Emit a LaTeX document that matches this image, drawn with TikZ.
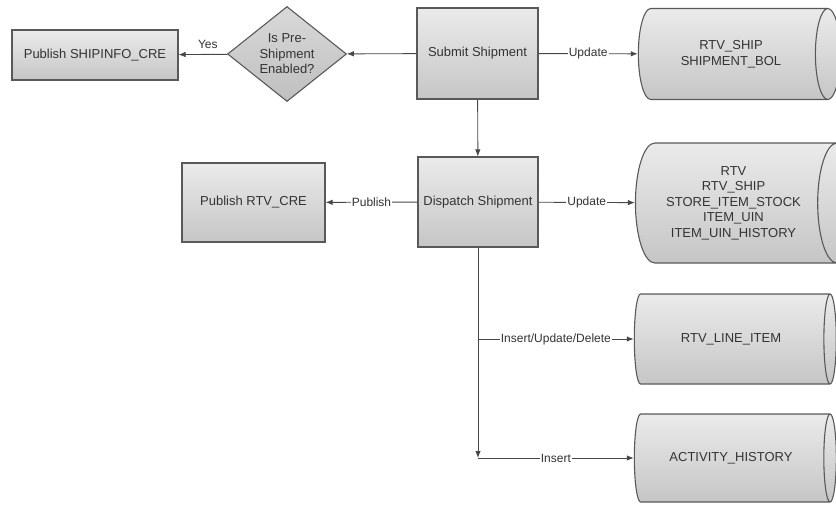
\documentclass[tikz,border=0pt]{standalone}
\usepackage{fontspec}
\setmainfont{Liberation Sans}
\usepackage{tikz}
\usetikzlibrary{arrows.meta}
\usetikzlibrary{shapes.geometric}
\usetikzlibrary{positioning}

\begin{document}
\begin{tikzpicture}[x=1pt,y=1pt,->,>={Latex[length=7pt,width=5.5pt]},line width=0.9pt,draw=black!72,text=black!80,font=\fontsize{13}{15.5}\selectfont]
	\tikzstyle{proc}=[draw=black!65, line width=1.1pt, rectangle, top color=gray!16, bottom color=gray!45, align=center, inner sep=2pt]
	\tikzstyle{dec}=[draw=black!65, line width=1.1pt, diamond, top color=gray!30, bottom color=gray!50, align=center, inner sep=0pt, minimum width=119, minimum height=91]
	\tikzstyle{tbl}=[draw=black!65, line width=1.1pt, cylinder, top color=gray!16, bottom color=gray!45, align=center, inner sep=2pt, minimum height=202]
	\tikzstyle{lab}=[fill=white, inner sep=1pt, font=\fontsize{12}{14}\selectfont]
	\useasboundingbox (0,0) rectangle (836,-504);

	\node[proc, minimum width=166, minimum height=50] (p1) at (95,-55) {Publish SHIPINFO\_CRE};
	\node[dec] (q1) at (287,-54) {Is Pre-\\Shipment\\Enabled?};
	\node[proc, minimum width=121, minimum height=91] (s1) at (477.5,-53.5) {Submit Shipment};
	\node[proc, minimum width=120, minimum height=90] (d1) at (478,-202) {Dispatch Shipment};
	\node[proc, minimum width=143, minimum height=79] (p2) at (253.5,-202.5) {Publish RTV\_CRE};

	\node[tbl, minimum width=91, aspect=0.8] (t1) at (731,-54) {RTV\_SHIP\\SHIPMENT\_BOL};
	\node[tbl, minimum width=120, minimum height=221, aspect=0.5] (t2) at (733.5,-203) {RTV\\RTV\_SHIP\\STORE\_ITEM\_STOCK\\ITEM\_UIN\\ITEM\_UIN\_HISTORY};
	\node[tbl, minimum width=90, aspect=0.8] (t3) at (731,-339) {RTV\_LINE\_ITEM};
	\node[tbl, minimum width=88, aspect=0.8] (t4) at (731,-458) {ACTIVITY\_HISTORY};

	\coordinate (c1) at (d1.south |- t3);
	\coordinate (c2) at (d1.south |- t4);

	\draw (s1) -- (q1);
	\draw (q1) -- node[above, pos=0.4, font=\fontsize{12}{14}\selectfont, yshift=2pt] {Yes} (p1);
	\draw (s1) -- node[lab] {Update} (t1);
	\draw (s1) -- (d1);
	\draw (d1) -- node[lab] {Publish} (p2);
	\draw (d1) -- node[lab] {Update} (t2);
	\draw[-] (d1) -- (c1);
	\draw (c1) -- (c2);
	\draw (c1) -- node[lab] {Insert/Update/Delete} (t3);
	\draw (c2) -- node[lab] {Insert} (t4);
\end{tikzpicture}
\end{document}
